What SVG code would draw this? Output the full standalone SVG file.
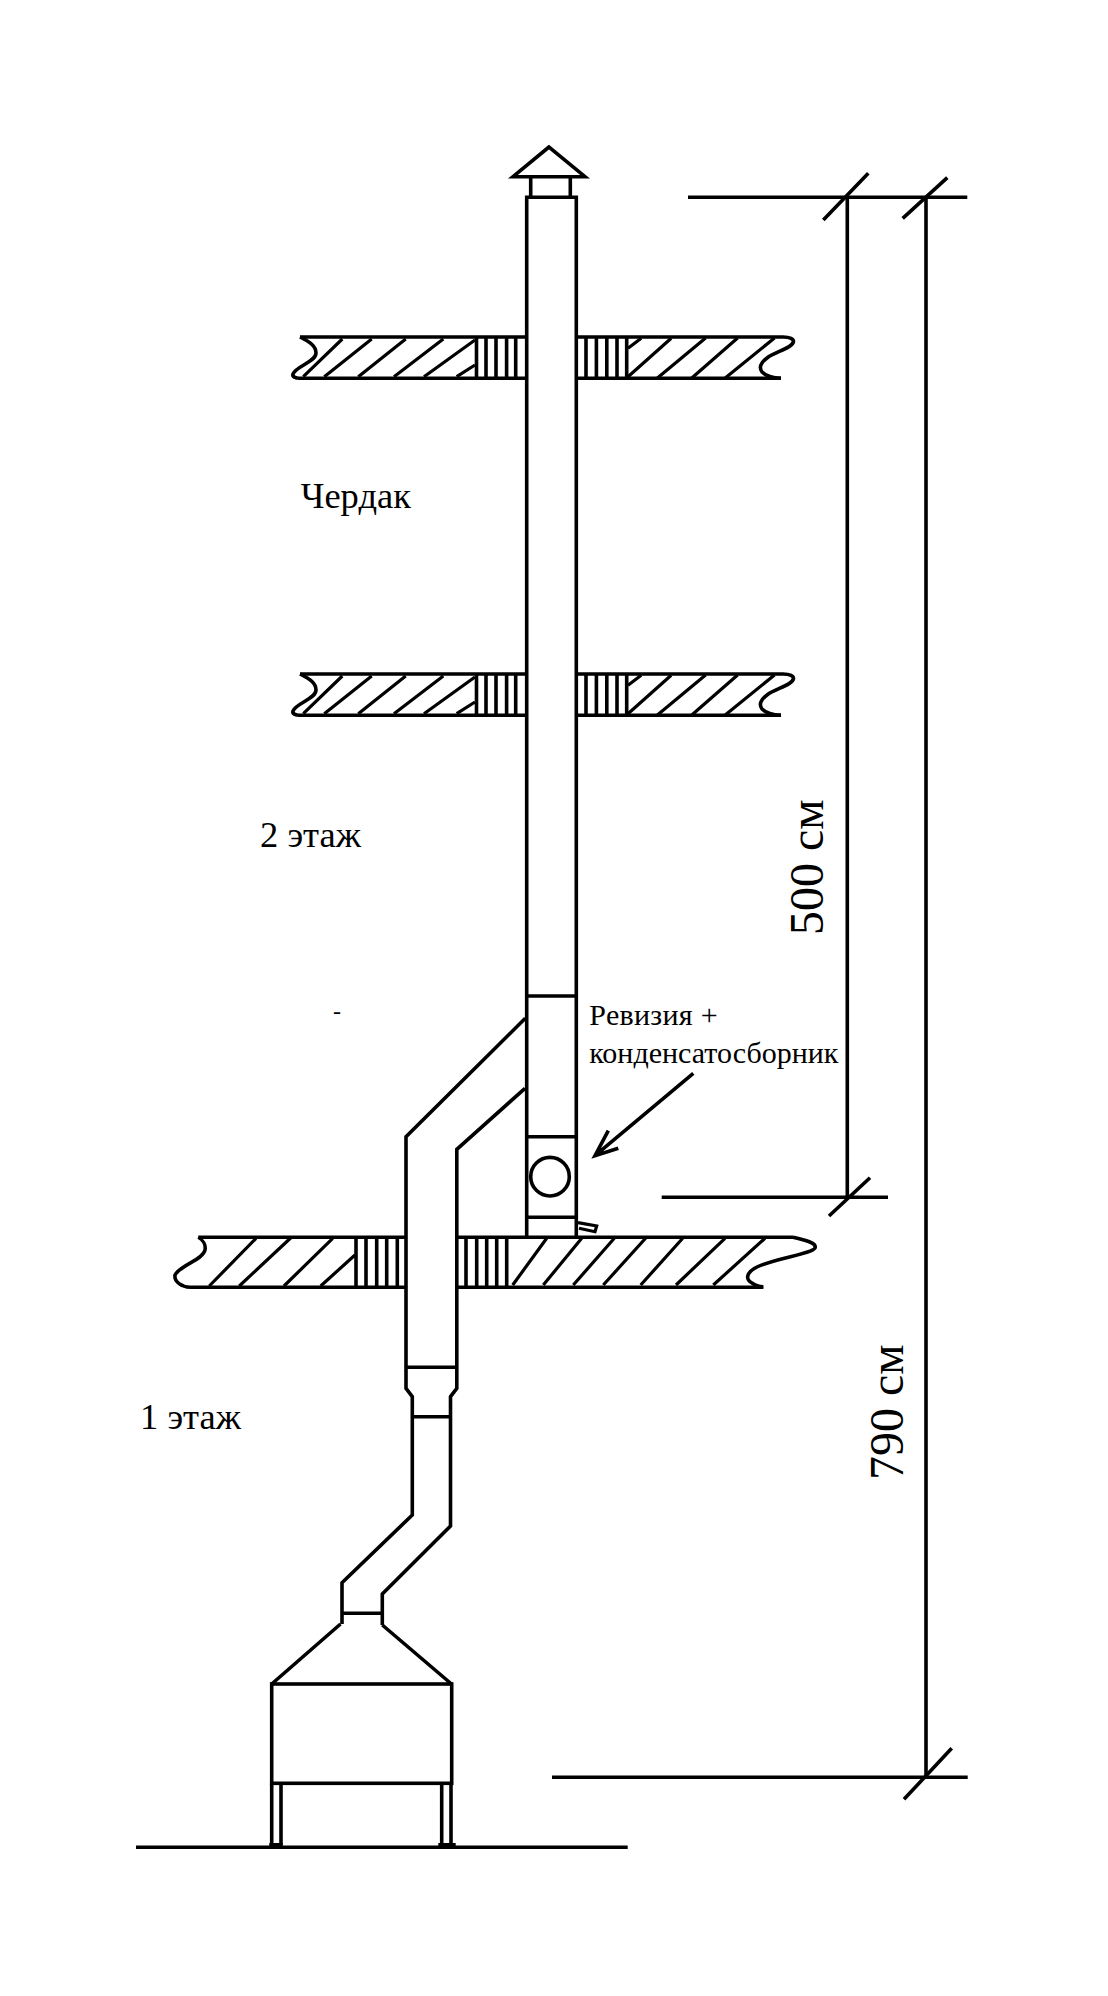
<svg xmlns="http://www.w3.org/2000/svg" xmlns:xlink="http://www.w3.org/1999/xlink" width="1108" height="1996" viewBox="0 0 1108 1996">
<style>
.l{fill:none;stroke:#000;stroke-width:3.6;stroke-linecap:butt;stroke-linejoin:miter}
.t{stroke-width:3.2}
text{font-family:"Liberation Serif","Times New Roman",serif;fill:#000}
.s36{font-size:36.5px}.s30{font-size:30px}.s48{font-size:48px}
</style>
<defs>
<g id="slab">
<path class="l" d="M300 337H526.5M298 378.3H526.5M576.3 337H783M576.3 378.3H781"/>
<path class="l" d="M300 337C310 342 316 346 316 353C316 362 296 366 293 374C292 377 296 378 298 378.3"/>
<path class="l" d="M783 337C790 337 794 339 793.4 342C792 348 775 352 767 358C760 363 759 368 762 372C766 376 772 378 781 378.3"/>
<path class="l" d="M476.5 337V378.3M486 337V378.3M496 337V378.3M506.6 337V378.3M515.7 337V378.3M586 337V378.3M596.4 337V378.3M606.8 337V378.3M617 337V378.3M626.7 337V378.3"/>
<path class="l t" d="M303.3 376.7L342.3 339M324.3 376.7L371.7 339M358.3 376.7L405.7 339M394 376.7L443.3 339M424 376.7L475 340M456.7 376.7L475 365M628 348.3L641.2 338.3M628 376.7L671.2 338.3M657.4 378L705.6 338M691.8 378L737.6 338M725.2 378L774.5 338"/>
</g>
</defs>
<rect width="1108" height="1996" fill="#fff"/>
<g id="slabs">
<use xlink:href="#slab" href="#slab"/>
<use xlink:href="#slab" href="#slab" y="337"/>
<g id="floor-slab">
<path class="l" d="M198.3 1237.3H406M456 1237.3H793.3M190 1287.3H406M456 1287.3H763.3"/>
<path class="l" d="M198.3 1237.3C203 1240 206 1245 205 1250C203 1260 180 1265 175 1275C174 1282 182 1287 190 1287.3"/>
<path class="l" d="M793 1237.3C805 1240 817 1243 815 1248C812 1254 775 1258 757 1267C745 1273 746 1280 752 1283C756 1286 760 1286.7 763.3 1286.7"/>
<path class="l" d="M356 1237.3V1287.3M366 1237.3V1287.3M376.7 1237.3V1287.3M386.7 1237.3V1287.3M397.3 1237.3V1287.3M466 1237.3V1287.3M476.7 1237.3V1287.3M486.7 1237.3V1287.3M496.7 1237.3V1287.3M506.7 1237.3V1287.3"/>
<path class="l t" d="M209.3 1286L256 1238.3M239.3 1286L291.7 1237M284 1286L332.7 1238.3M320.7 1286L355 1255M512.7 1285L546.7 1238.3M543.3 1285L581.7 1238.3M573.3 1285L614.3 1238.3M603.3 1285L646.7 1237M640.7 1285L682.7 1238.3M676 1285L725 1238.3M713.3 1285L765 1238.3"/>
</g>
</g>
<g id="chimney">
<path class="l" d="M549 147L513 176.7H585Z"/>
<path class="l" d="M530.7 176.7V197.3M570.3 176.7V197.3"/>
<path class="l" d="M526.7 1237.3V197.3H576.3V1237.3"/>
<path class="l" d="M526.7 996H576.3M526.7 1136.7H576.3M526.7 1217.3H576.3"/>
<circle class="l" cx="550" cy="1176.7" r="19.3"/>
<path class="l t" d="M578 1222.7L596.7 1226L595 1231.7L579 1228.3"/>
</g>
<g id="flue">
<path class="l" d="M525.3 1018.3L406 1136.7V1388.3L412.3 1396.7V1515L342 1582.7V1624"/>
<path class="l" d="M525 1088.3L456.8 1149.3V1388.3L450.5 1396.7V1526L382.3 1594V1625"/>
<path class="l" d="M406 1367.3H456.8M412.3 1416.7H450.5M342 1613.3H382.3"/>
</g>
<g id="stove">
<path class="l" d="M340.5 1624L271.7 1684M382.3 1625L451.5 1684"/>
<rect class="l" x="271.7" y="1684" width="180" height="99.3"/>
<path class="l" d="M271.7 1783.3V1845M281 1783.3V1845M441.7 1783.3V1845M451 1783.3V1845"/>
<rect x="269.3" y="1843" width="13.4" height="4" fill="#000"/>
<rect x="438.3" y="1843" width="17.4" height="4" fill="#000"/>
</g>
<g id="ground"><path class="l" d="M136 1847.3H627.7"/></g>
<g id="dimensions">
<path class="l" d="M688 197.3H967.3M661.7 1197.3H888M552 1777.3H967.7"/>
<path class="l" d="M847.3 197.3V1197.3M926 197.3V1777.3"/>
<path class="l" d="M823.3 220L868.3 173.3M902.7 218.3L947.3 177.7M829 1216L870 1177.7M904 1799.3L951.7 1748.3"/>
</g>
<g id="arrow">
<path class="l" d="M693.3 1073.3L595 1155.7M608.3 1130.7L595 1155.7L618.3 1148.3"/>
</g>
<g id="labels">
<text class="s36" x="300.7" y="508.3">Чердак</text>
<text class="s36" x="260" y="846.7">2 этаж</text>
<text class="s36" x="140" y="1429">1 этаж</text>
<text style="font-size:24px" x="333" y="1019">-</text>
<text class="s30" x="589.3" y="1025" letter-spacing="0.3">Ревизия +</text>
<text class="s30" x="589.3" y="1062.7">конденсатосборник</text>
<text class="s48" transform="translate(823.3 935) rotate(-90)">500 см</text>
<text class="s48" transform="translate(902.7 1480) rotate(-90)">790 см</text>
</g>
</svg>
